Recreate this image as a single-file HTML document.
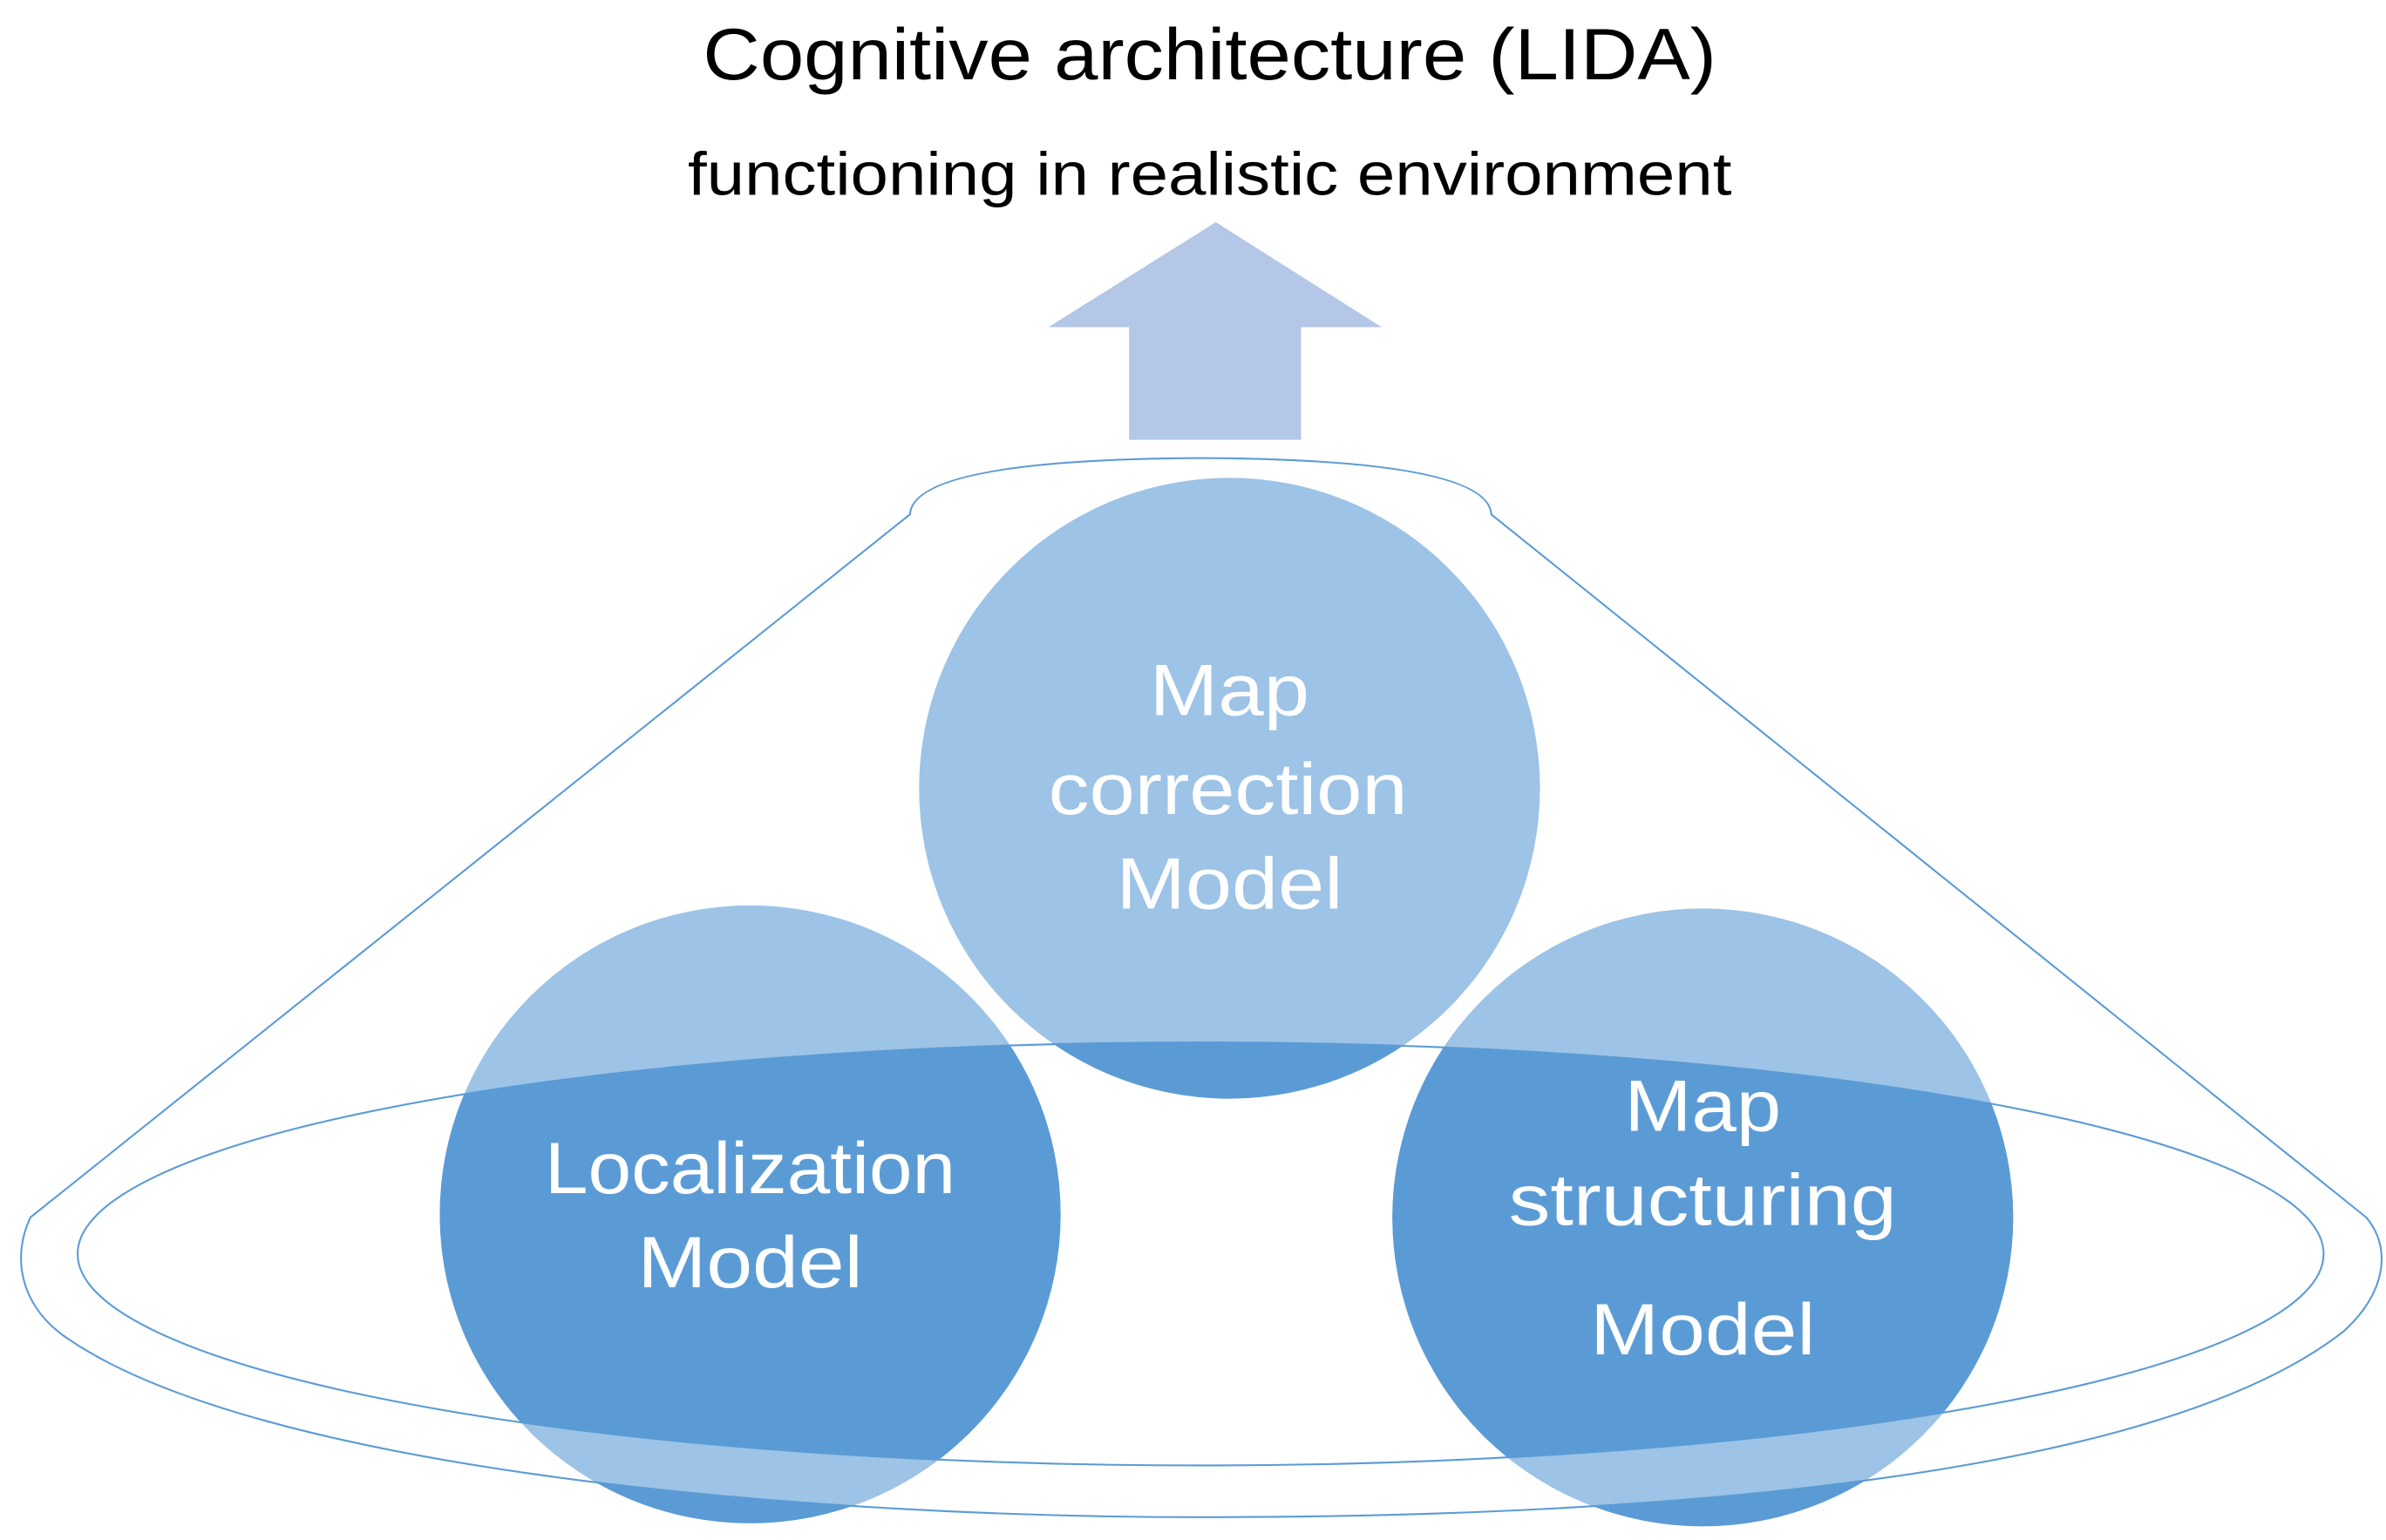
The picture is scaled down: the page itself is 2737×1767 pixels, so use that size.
<!DOCTYPE html>
<html><head><meta charset="utf-8"><style>html,body{margin:0;padding:0;background:#fff}svg{display:block}</style></head>
<body>
<svg width="2737" height="1767" viewBox="0 0 1568 1012" preserveAspectRatio="none" xmlns="http://www.w3.org/2000/svg">
<defs>
<path id="outer" d="M598,338 Q600,302 789,301 Q978,302 980,338 L1555,800 C1572,820 1568,850 1540,875 C1400,985 1000,997 789,997 C520,997 170,965 45,880 C12,858 8,825 20,800 Z"/>
<clipPath id="inner"><ellipse cx="789" cy="824" rx="738" ry="139"/></clipPath>
<clipPath id="outside"><path clip-rule="evenodd" d="M0,0 H1568 V1012 H0 Z M598,338 Q600,302 789,301 Q978,302 980,338 L1555,800 C1572,820 1568,850 1540,875 C1400,985 1000,997 789,997 C520,997 170,965 45,880 C12,858 8,825 20,800 Z"/></clipPath>
</defs>
<g font-family="Liberation Sans, sans-serif" fill="#000">
<text x="795" y="52" font-size="48" text-anchor="middle" textLength="666" lengthAdjust="spacingAndGlyphs">Cognitive architecture (LIDA)</text>
<text x="795" y="128" font-size="40" text-anchor="middle" textLength="686" lengthAdjust="spacingAndGlyphs">functioning in realistic environment</text>
</g>
<polygon points="799,146 908,215 855,215 855,289 742,289 742,215 689,215" fill="#b4c7e7"/>
<g fill="#9dc3e6">
<ellipse cx="808" cy="518" rx="204" ry="204"/>
<ellipse cx="493" cy="798" rx="204" ry="203"/>
<ellipse cx="1119" cy="800" rx="204" ry="203"/>
</g>
<g fill="#5b9bd5" clip-path="url(#inner)">
<ellipse cx="808" cy="518" rx="204" ry="204"/>
<ellipse cx="493" cy="798" rx="204" ry="203"/>
<ellipse cx="1119" cy="800" rx="204" ry="203"/>
</g>
<g fill="#5b9bd5" clip-path="url(#outside)">
<ellipse cx="493" cy="798" rx="204" ry="203"/>
<ellipse cx="1119" cy="800" rx="204" ry="203"/>
</g>
<use href="#outer" fill="none" stroke="#5b9bd5" stroke-width="1.2"/>
<ellipse cx="789" cy="824" rx="738" ry="139" fill="none" stroke="#5b9bd5" stroke-width="1.2"/>
<g font-family="Liberation Sans, sans-serif" fill="#fff" font-size="48" text-anchor="middle">
<text x="808" y="470" textLength="105" lengthAdjust="spacingAndGlyphs">Map</text>
<text x="807" y="535" textLength="236" lengthAdjust="spacingAndGlyphs">correction</text>
<text x="808" y="597" textLength="149" lengthAdjust="spacingAndGlyphs">Model</text>
<text x="493" y="784" textLength="270" lengthAdjust="spacingAndGlyphs">Localization</text>
<text x="493" y="846" textLength="148" lengthAdjust="spacingAndGlyphs">Model</text>
<text x="1119" y="743" textLength="103" lengthAdjust="spacingAndGlyphs">Map</text>
<text x="1119" y="805" textLength="255" lengthAdjust="spacingAndGlyphs">structuring</text>
<text x="1119" y="890" textLength="148" lengthAdjust="spacingAndGlyphs">Model</text>
</g>
</svg>
</body></html>
